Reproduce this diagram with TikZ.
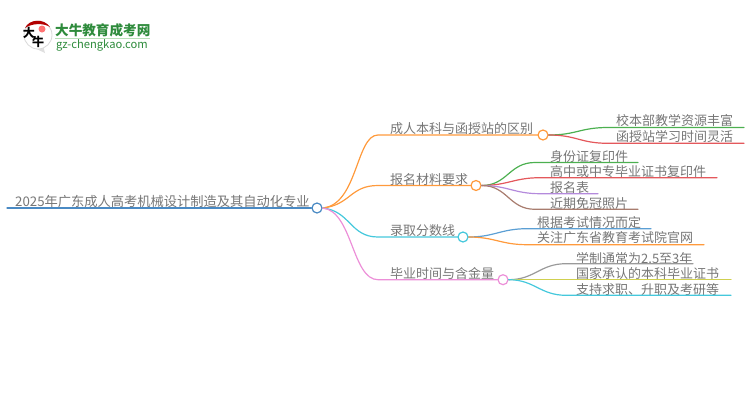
\documentclass[tikz,border=0pt]{standalone}
\usepackage{fontspec}
\setmainfont{Noto Sans CJK SC}
\definecolor{txtc}{HTML}{767676}
\definecolor{cblue}{HTML}{4A8AC4}
\definecolor{corange}{HTML}{FF9A3C}
\definecolor{ccyan}{HTML}{45C8DC}
\definecolor{cpink}{HTML}{EC8FD8}
\definecolor{cgreen}{HTML}{4CB050}
\definecolor{cred}{HTML}{E4585C}
\definecolor{cpurple}{HTML}{B48ADC}
\definecolor{cbrown}{HTML}{A87C6E}
\definecolor{cmblue}{HTML}{5B9FD4}
\definecolor{cgray}{HTML}{9A9A9A}
\definecolor{colive}{HTML}{D0D050}
\definecolor{logog}{HTML}{2E8B3C}
\tikzset{
  lab/.style={font=\fontsize{13}{13}\selectfont, text=txtc, inner sep=0pt, anchor=west},
  hub/.style={circle, draw=#1, fill=white, line width=1.2pt, minimum size=10pt, inner sep=0pt},
  wire/.style={draw=#1, line width=1.2pt, line cap=round},
}
\begin{document}
\begin{tikzpicture}[x=1pt,y=-1pt]
\useasboundingbox (0,0) rectangle (750,410);
% logo
\fill[gray!25] (30,46) -- (45,53) -- (43,45) -- cycle;
\node[circle, draw=gray!30, fill=white, line width=0.8pt, minimum size=28pt, inner sep=0pt] (bubble) at (38,35) {};
\fill[red!70!black] (25,28) .. controls (29,19) and (44,18) .. (50,27) .. controls (44,23) and (32,23) .. (25,28) -- cycle;
\node[circle, fill=red!55, minimum size=7pt, inner sep=0pt] (seal) at (42,29) {};
\node[inner sep=0pt, font=\bfseries\fontsize{12}{12}\selectfont, text=black] (da) at (29,33) {大};
\node[inner sep=0pt, font=\bfseries\fontsize{12}{12}\selectfont, text=black] (niu) at (38,42) {牛};
\node[inner sep=0pt, anchor=west, font=\bfseries\fontsize{13.6}{14}\selectfont, text=logog] (brand) at (55,30) {大牛教育成考网};
\node[inner sep=0pt, anchor=west, font=\fontsize{11.2}{11}\selectfont, text=logog] (url) at (56,45) {gz-chengkao.com};
\coordinate (ruleA) at (55,38.5);
\coordinate (ruleB) at (150,38.5);
\draw[green!40!gray!40, line width=0.6pt] (ruleA) -- (ruleB);
% hubs
\node[hub=cblue] (root) at (317,208) {};
\node[hub=corange] (b1) at (543,135) {};
\node[hub=corange] (b2) at (476,185.5) {};
\node[hub=ccyan] (b3) at (463,237) {};
\node[hub=cpink] (b4) at (503,279.7) {};
% labels
\node[lab, font=\fontsize{13.25}{13}\selectfont] (troot) at (15,201) {2025年广东成人高考机械设计制造及其自动化专业};
\node[lab] (t1) at (390,129) {成人本科与函授站的区别};
\node[lab] (t2) at (390,180) {报名材料要求};
\node[lab] (t3) at (390,230.5) {录取分数线};
\node[lab] (t4) at (390,273) {毕业时间与含金量};
\node[lab] (t11) at (616,121) {校本部教学资源丰富};
\node[lab] (t12) at (616,137) {函授站学习时间灵活};
\node[lab] (t21) at (550,156.5) {身份证复印件};
\node[lab] (t22) at (550,172) {高中或中专毕业证书复印件};
\node[lab] (t23) at (550,188) {报名表};
\node[lab] (t24) at (550,203.5) {近期免冠照片};
\node[lab] (t31) at (537,222.5) {根据考试情况而定};
\node[lab] (t32) at (537,238) {关注广东省教育考试院官网};
\node[lab] (t41) at (576,258) {学制通常为2.5至3年};
\node[lab] (t42) at (576,273.5) {国家承认的本科毕业证书};
\node[lab] (t43) at (576,289.5) {支持求职、升职及考研等};
% free line ends
\coordinate (e0) at (7,208);
\coordinate (s1) at (378,135);
\coordinate (s2) at (378,185.5);
\coordinate (s3) at (378,237);
\coordinate (s4) at (378,279.7);
\coordinate (a11) at (608,127.5); \coordinate (e11) at (744,127.5);
\coordinate (a12) at (608,143.3); \coordinate (e12) at (744,143.3);
\coordinate (a21) at (535,162.5); \coordinate (e21) at (638,162.5);
\coordinate (a22) at (540,177.7); \coordinate (e22) at (717,177.7);
\coordinate (a23) at (540,193.7); \coordinate (e23) at (598,193.7);
\coordinate (a24) at (535,209.3); \coordinate (e24) at (638,209.3);
\coordinate (a31) at (527,228.7); \coordinate (e31) at (651,228.7);
\coordinate (a32) at (527,244.7); \coordinate (e32) at (704,244.7);
\coordinate (a41) at (566,263.7); \coordinate (e41) at (693,263.7);
\coordinate (a42) at (566,279.7); \coordinate (e42) at (731,279.7);
\coordinate (a43) at (566,295.3); \coordinate (e43) at (731,295.3);
% connectors
\draw[wire=cblue] (e0) -- (root.west);
\draw[wire=corange] (root.east) .. controls +(35,-3) and +(-22,0) .. (s1) -- (b1.west);
\draw[wire=corange] (root.east) .. controls +(28,-3) and +(-28,0) .. (s2) -- (b2.west);
\draw[wire=ccyan] (root.east) .. controls +(28,3) and +(-28,0) .. (s3) -- (b3.west);
\draw[wire=cpink] (root.east) .. controls +(30,3) and +(-26,0) .. (s4) -- (b4.west);
\draw[wire=cgreen] (b1.east) .. controls +(28,0) and +(-28,0) .. (a11) -- (e11);
\draw[wire=cred] (b1.east) .. controls +(28,0) and +(-28,0) .. (a12) -- (e12);
\draw[wire=cgreen] (b2.east) .. controls +(26,0) and +(-26,0) .. (a21) -- (e21);
\draw[wire=cred] (b2.east) .. controls +(26,0) and +(-26,0) .. (a22) -- (e22);
\draw[wire=cpurple] (b2.east) .. controls +(26,0) and +(-26,0) .. (a23) -- (e23);
\draw[wire=cbrown] (b2.east) .. controls +(26,0) and +(-26,0) .. (a24) -- (e24);
\draw[wire=cmblue] (b3.east) .. controls +(26,0) and +(-26,0) .. (a31) -- (e31);
\draw[wire=corange] (b3.east) .. controls +(26,0) and +(-26,0) .. (a32) -- (e32);
\draw[wire=cgray] (b4.east) .. controls +(26,0) and +(-26,0) .. (a41) -- (e41);
\draw[wire=colive] (b4.east) -- (e42);
\draw[wire=ccyan] (b4.east) .. controls +(26,0) and +(-26,0) .. (a43) -- (e43);
\end{tikzpicture}
\end{document}
